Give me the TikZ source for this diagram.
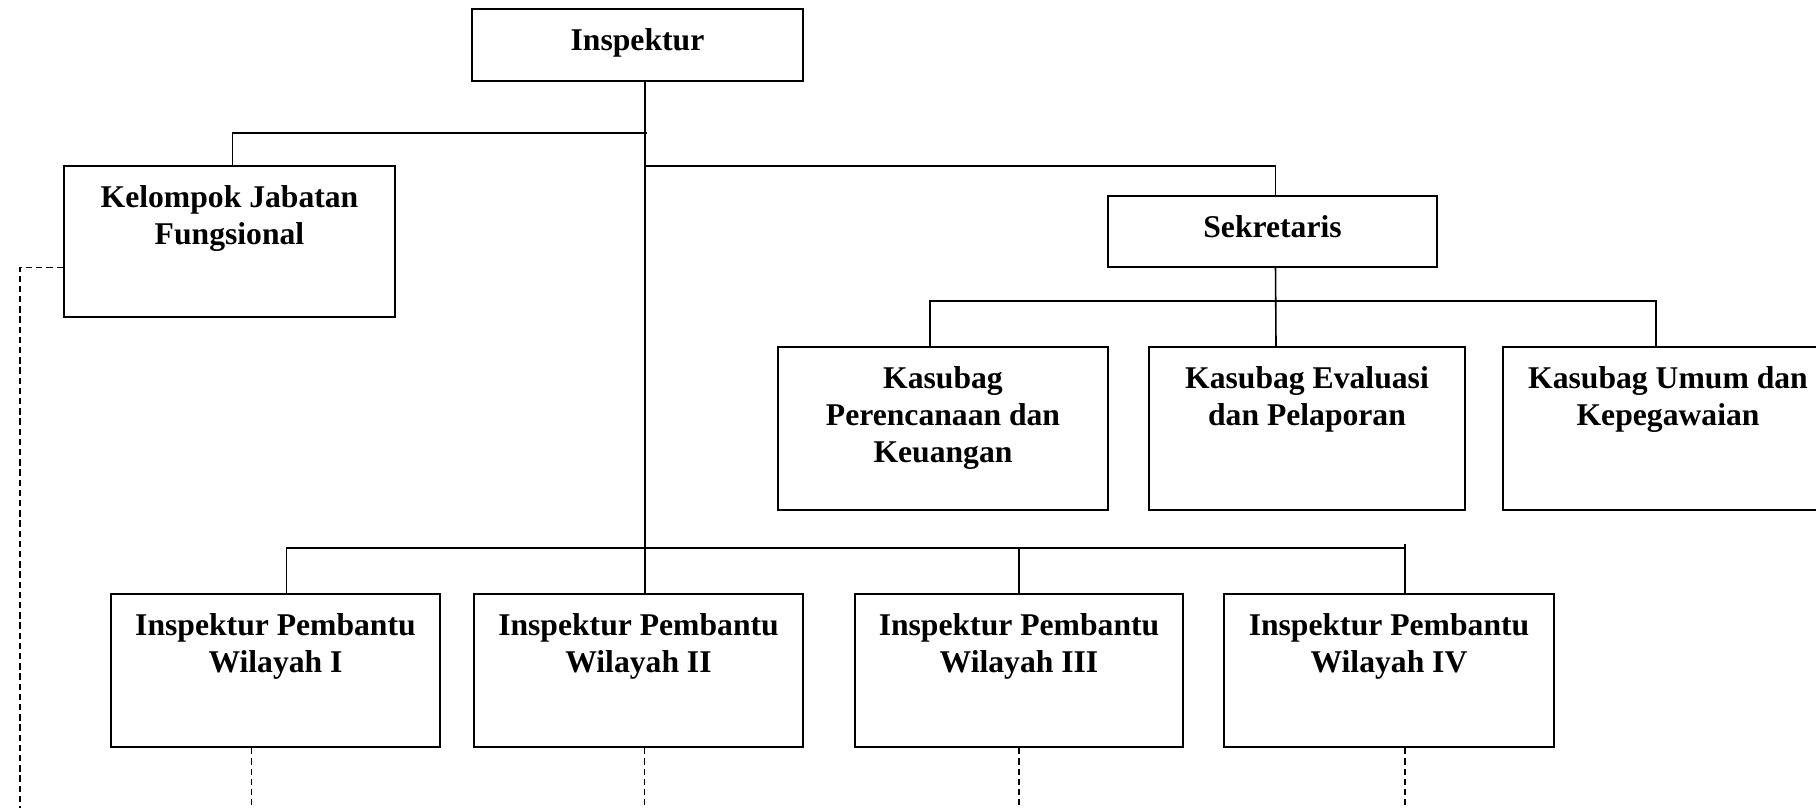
\documentclass[tikz,border=0pt]{standalone}
\usepackage{fontspec}
\setmainfont{Liberation Serif}
\usetikzlibrary{calc}

\begin{document}
\begin{tikzpicture}[x=0.01cm, y=-0.01cm,
  kotak/.style={draw, line width=0.6pt, inner sep=0pt},
  judul/.style={anchor=north, align=center, inner sep=0pt, yshift=-0.2cm,
    font=\fontsize{9}{10.5}\selectfont\bfseries},
  garis/.style={line width=0.45pt},
  putus/.style={line width=0.5pt, dash pattern=on 1.8pt off 1.1pt}]
\useasboundingbox (0,0) rectangle (1816,808);

% kotak-kotak jabatan
\node[kotak, minimum width=3.31cm, minimum height=0.72cm] (insp) at (637.5,45) {};
\node[judul] (insp-t) at (insp.north) {Inspektur};
\node[kotak, minimum width=3.31cm, minimum height=1.51cm] (kjf) at (229.5,241.5) {};
\node[judul] (kjf-t) at (kjf.north) {Kelompok Jabatan\\Fungsional};
\node[kotak, minimum width=3.29cm, minimum height=0.71cm] (sek) at (1272.5,231.5) {};
\node[judul] (sek-t) at (sek.north) {Sekretaris};

\node[kotak, minimum width=3.30cm, minimum height=1.63cm] (kp) at (943,428.5) {};
\node[judul] (kp-t) at (kp.north) {Kasubag\\Perencanaan dan\\Keuangan};
\node[kotak, minimum width=3.16cm, minimum height=1.63cm] (ke) at (1307,428.5) {};
\node[judul] (ke-t) at (ke.north) {Kasubag Evaluasi\\dan Pelaporan};
\node[kotak, minimum width=3.30cm, minimum height=1.63cm] (ku) at (1668,428.5) {};
\node[judul] (ku-t) at (ku.north) {Kasubag Umum dan\\Kepegawaian};

\node[kotak, minimum width=3.29cm, minimum height=1.53cm] (ip1) at (275.5,670.5) {};
\node[judul] (ip1-t) at (ip1.north) {Inspektur Pembantu\\Wilayah I};
\node[kotak, minimum width=3.29cm, minimum height=1.53cm] (ip2) at (638.5,670.5) {};
\node[judul] (ip2-t) at (ip2.north) {Inspektur Pembantu\\Wilayah II};
\node[kotak, minimum width=3.28cm, minimum height=1.53cm] (ip3) at (1019,670.5) {};
\node[judul] (ip3-t) at (ip3.north) {Inspektur Pembantu\\Wilayah III};
\node[kotak, minimum width=3.30cm, minimum height=1.53cm] (ip4) at (1389,670.5) {};
\node[judul] (ip4-t) at (ip4.north) {Inspektur Pembantu\\Wilayah IV};

% titik cabang
\coordinate (jk) at (647,133);
\coordinate (js) at (645,166);
\coordinate (jw) at (645,548);
\coordinate (bs) at (1276,301);
\coordinate (bawah) at (0,808);

% garis komando
\draw[garis] (insp.south -| jw) -- (ip2.north -| jw);
\draw[garis] ($(kjf.north)+(3,0)$) |- (jk);
\draw[garis] (js) -| ($(sek.north)+(3,0)$);
\draw[garis] ($(sek.south)+(3,0)$) -- ($(ke.north)+(-31,0)$);
\draw[garis] ($(kp.north)+(-13,0)$) |- (bs) -| ($(ku.north)+(-12,0)$);
\draw[garis] ($(ip1.north)+(11,0)$) |- (jw) -| ($(ip4.north)+(16,0)$);
\draw[garis] ($(ip4.north)+(16,-49)$) -- ($(ip4.north)+(16,-45)$);
\draw[garis] (ip3.north) -- (ip3.north |- jw);

% garis koordinasi
\draw[putus] ($(kjf.west)+(0,26)$) -| (20,808);
\draw[putus] ($(ip1.south)+(-24,0)$) coordinate (d1) -- (d1 |- bawah);
\draw[putus] ($(ip2.south)+(6,0)$) coordinate (d2) -- (d2 |- bawah);
\draw[putus] (ip3.south) -- (ip3.south |- bawah);
\draw[putus] ($(ip4.south)+(16,0)$) coordinate (d4) -- (d4 |- bawah);
\end{tikzpicture}
\end{document}
